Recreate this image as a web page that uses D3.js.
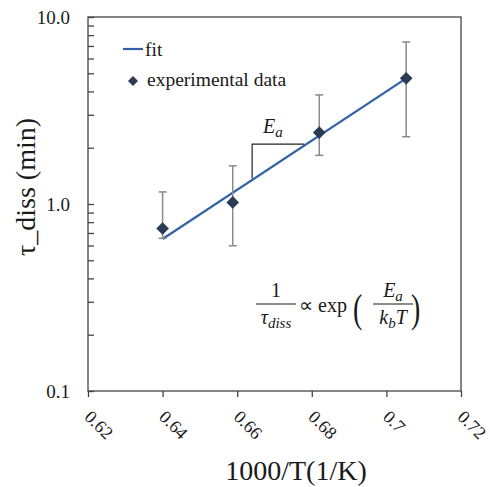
<!DOCTYPE html>
<html>
  <head>
    <meta charset="utf-8">
    <title>tau_diss vs 1000/T</title>
    <script src="https://cdn.jsdelivr.net/npm/d3@7"></script>
    <style>
      body { margin: 0; background: #fff; }
      svg text { font-family: "Liberation Serif", serif; fill: #1a1a1a; }
      .axis path, .axis line { stroke: #444; stroke-width: 1.3; }
      .math { font-style: italic; }
    </style>
  </head>

  <body>
    <svg id="chart" width="490" height="487">
      <g id="frameGroup"></g>
      <g id="xAxisGroup" class="axis"></g>
      <g id="yAxisGroup" class="axis"></g>
      <g id="chartGroup"></g>
      <g id="legend"></g>
      <g id="notes"></g>
    </svg>

    <script>
      // data
      tempX = [0.640, 0.6588, 0.682, 0.7053];
      tauY = [0.74, 1.02, 2.41, 4.70];
      errHi = [1.16, 1.60, 3.83, 7.35];
      errLo = [0.655, 0.598, 1.82, 2.29];
      fitX = [0.640, 0.7053];
      fitY = [0.65, 4.70];
      slopeX = [0.664, 0.678];
      slopeY = [1.375, 2.09];
      xTicks = [0.62, 0.64, 0.66, 0.68, 0.70, 0.72];
      xTickLabels = ["0.62", "0.64", "0.66", "0.68", "0.7", "0.72"];
      yMajor = [0.1, 1, 10];
      yMajorLabels = ["0.1", "1.0", "10.0"];
      yMinor = [0.2, 0.3, 0.4, 0.5, 0.6, 0.7, 0.8, 0.9, 2, 3, 4, 5, 6, 7, 8, 9];

      serif = '"Liberation Serif", serif';

      // page elements
      chart = d3.select("#chart");
      frameGroup = d3.select("#frameGroup");
      chartGroup = d3.select("#chartGroup");
      legend = d3.select("#legend");
      notes = d3.select("#notes");

      margin = {top: 17, right: 29, bottom: 96, left: 88};
      width = 490;
      height = 487;

      x = d3.scaleLinear()
        .domain([0.62, 0.72])
        .range([margin.left, width - margin.right]);
      y = d3.scaleLog()
        .domain([0.1, 10])
        .range([height - margin.bottom, margin.top]);

      // frame
      frameGroup.append("rect")
        .attr("x", x(0.62))
        .attr("y", y(10))
        .attr("width", x(0.72) - x(0.62))
        .attr("height", y(0.1) - y(10))
        .attr("fill", "none")
        .attr("stroke", "#444")
        .attr("stroke-width", 1.3);

      // axes
      xAxis = d3.axisBottom(x)
        .tickValues(xTicks)
        .tickFormat(function(d, i) { return xTickLabels[i]; })
        .tickSizeInner(6)
        .tickSizeOuter(0);
      d3.select("#xAxisGroup")
        .attr("transform", "translate(0, " + y(0.1) + ")")
        .call(xAxis)
        .attr("font-family", null)
        .attr("font-size", null)
        .call(function(g) { g.select(".domain").remove(); })
        .selectAll("text")
          .attr("x", 0)
          .attr("y", 0)
          .attr("dy", 0)
          .attr("text-anchor", "start")
          .style("font-family", serif)
          .style("font-size", "18px")
          .attr("transform", "translate(-5, 27) rotate(45)");

      yAxis = d3.axisLeft(y)
        .tickValues(yMajor.concat(yMinor))
        .tickFormat(function(d) {
          var i = yMajor.indexOf(d);
          return i < 0 ? "" : yMajorLabels[i];
        })
        .tickSizeInner(-6)
        .tickSizeOuter(0)
        .tickPadding(18);
      d3.select("#yAxisGroup")
        .attr("transform", "translate(" + x(0.62) + ", 0)")
        .call(yAxis)
        .attr("font-family", null)
        .attr("font-size", null)
        .call(function(g) { g.select(".domain").remove(); })
        .selectAll("text")
          .style("font-family", serif)
          .style("font-size", "19px");

      // axis titles
      chart.append("text")
        .attr("x", 296)
        .attr("y", 480)
        .attr("text-anchor", "middle")
        .style("font-family", serif)
        .style("font-size", "28px")
        .text("1000/T(1/K)");
      chart.append("text")
        .attr("transform", "translate(35, 187) rotate(-90)")
        .attr("text-anchor", "middle")
        .style("font-family", serif)
        .style("font-size", "28px")
        .text("τ_diss (min)");

      // fit line
      fitLine = d3.line()
        .x(function(d) { return x(d[0]); })
        .y(function(d) { return y(d[1]); });
      chartGroup.append("path")
        .datum(d3.zip(fitX, fitY))
        .attr("d", fitLine)
        .attr("fill", "none")
        .attr("stroke", "#3262a6")
        .attr("stroke-width", 2.2);

      // slope triangle
      chartGroup.append("path")
        .datum([[slopeX[0], slopeY[0]], [slopeX[0], slopeY[1]], [slopeX[1], slopeY[1]]])
        .attr("d", fitLine)
        .attr("fill", "none")
        .attr("stroke", "#222")
        .attr("stroke-width", 1.2);

      // error bars
      points = d3.range(tempX.length).map(function(i) {
        return {x: tempX[i], y: tauY[i], hi: errHi[i], lo: errLo[i]};
      });
      bars = chartGroup.selectAll(".err")
        .data(points)
        .enter().append("g")
          .attr("class", "err")
          .attr("stroke", "#8a8a8a")
          .attr("stroke-width", 1.5);
      bars.append("line")
        .attr("x1", function(d) { return x(d.x); })
        .attr("x2", function(d) { return x(d.x); })
        .attr("y1", function(d) { return y(d.hi); })
        .attr("y2", function(d) { return y(d.lo); });
      ["hi", "lo"].forEach(function(k) {
        bars.append("line")
          .attr("x1", function(d) { return x(d.x) - 4; })
          .attr("x2", function(d) { return x(d.x) + 4; })
          .attr("y1", function(d) { return y(d[k]); })
          .attr("y2", function(d) { return y(d[k]); });
      });

      // markers
      diamond = d3.symbol(d3.symbolSquare, 80);
      chartGroup.selectAll(".pt")
        .data(points)
        .enter().append("path")
          .attr("class", "pt")
          .attr("d", diamond)
          .attr("fill", "#2b3a55")
          .attr("transform", function(d) {
            return "translate(" + x(d.x) + ", " + y(d.y) + ") rotate(45)";
          });

      // legend
      legend.append("line")
        .attr("x1", 123).attr("x2", 143)
        .attr("y1", 49).attr("y2", 49)
        .attr("stroke", "#3262a6")
        .attr("stroke-width", 2.2);
      legend.append("text")
        .attr("x", 145).attr("y", 56)
        .style("font-size", "19.5px")
        .text("fit");
      legend.append("path")
        .attr("d", d3.symbol(d3.symbolSquare, 50))
        .attr("fill", "#2b3a55")
        .attr("transform", "translate(133, 81) rotate(45)");
      legend.append("text")
        .attr("x", 147).attr("y", 86)
        .style("font-size", "19.5px")
        .text("experimental data");

      // E_a label at slope triangle
      ea = notes.append("text")
        .attr("class", "math")
        .attr("x", 263).attr("y", 133)
        .style("font-size", "20px");
      ea.append("tspan").text("E");
      ea.append("tspan").attr("dy", 4).style("font-size", "15px").text("a");

      // formula
      notes.append("text")
        .attr("x", 276).attr("y", 297)
        .attr("text-anchor", "middle")
        .style("font-size", "20px")
        .text("1");
      notes.append("line")
        .attr("x1", 256).attr("x2", 296)
        .attr("y1", 304).attr("y2", 304)
        .attr("stroke", "#1a1a1a").attr("stroke-width", 1.2);
      tau = notes.append("text")
        .attr("class", "math")
        .attr("x", 276).attr("y", 324)
        .attr("text-anchor", "middle")
        .style("font-size", "20px");
      tau.append("tspan").text("τ");
      tau.append("tspan").attr("dy", 4).style("font-size", "15px").text("diss");

      notes.append("text")
        .attr("x", 299).attr("y", 312)
        .style("font-size", "20px")
        .text("∝ exp");
      notes.append("text")
        .attr("x", 353).attr("y", 322)
        .style("font-size", "40px")
        .attr("transform", "translate(353, 322) scale(0.7, 1) translate(-353, -322)")
        .text("(");
      num = notes.append("text")
        .attr("class", "math")
        .attr("x", 393).attr("y", 297)
        .attr("text-anchor", "middle")
        .style("font-size", "20px");
      num.append("tspan").text("E");
      num.append("tspan").attr("dy", 4).style("font-size", "15px").text("a");
      notes.append("line")
        .attr("x1", 373).attr("x2", 413)
        .attr("y1", 304).attr("y2", 304)
        .attr("stroke", "#1a1a1a").attr("stroke-width", 1.2);
      den = notes.append("text")
        .attr("class", "math")
        .attr("x", 393).attr("y", 324)
        .attr("text-anchor", "middle")
        .style("font-size", "20px");
      den.append("tspan").text("k");
      den.append("tspan").attr("dy", 4).style("font-size", "15px").text("b");
      den.append("tspan").attr("dy", -4).text("T");
      notes.append("text")
        .attr("x", 411).attr("y", 322)
        .style("font-size", "40px")
        .attr("transform", "translate(411, 322) scale(0.7, 1) translate(-411, -322)")
        .text(")");
    </script>
  </body>
</html>
